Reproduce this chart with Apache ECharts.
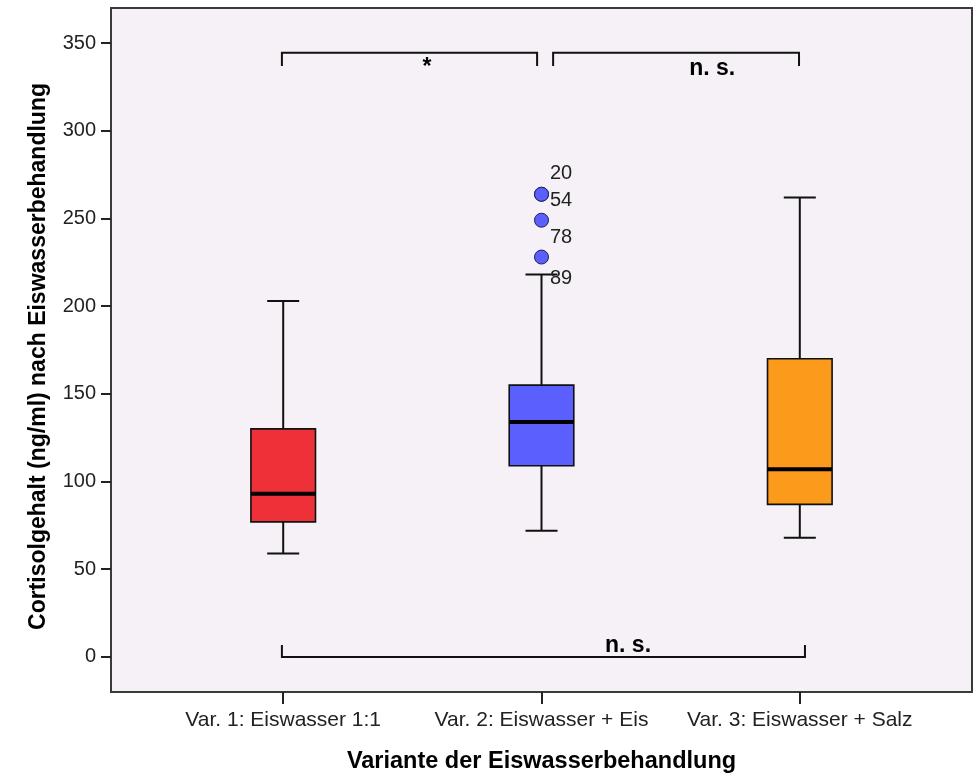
<!DOCTYPE html>
<html>
<head>
<meta charset="utf-8">
<script src="https://cdn.jsdelivr.net/npm/echarts@6/dist/echarts.min.js"></script>
<style>
  html, body { margin: 0; padding: 0; background: #ffffff; }
  #chart { width: 974px; height: 780px; }
</style>
</head>
<body>
<div id="chart"></div>
<script>
// Treatment variants on the x axis
const categories = ['Var. 1: Eiswasser 1:1', 'Var. 2: Eiswasser + Eis', 'Var. 3: Eiswasser + Salz'];

// Box summaries per variant (ng/ml)
const whiskerLow  = [59, 72, 68];
const quartile1   = [77, 109, 87];
const medians     = [93, 134, 107];
const quartile3   = [130, 155, 170];
const whiskerHigh = [203, 218, 262];

// Outliers (variant index 1..3, value, case number)
const outlierGroup  = [2, 2, 2, 2];
const outlierValues = [263.8, 263.8, 249, 228];
const outlierCases  = ['20', '54', '78', '89'];

// Y axis tick values
const yTicks = [0, 50, 100, 150, 200, 250, 300, 350];

// Significance brackets: span between variants and the test result
const bracketFrom  = [1, 2, 1];
const bracketTo    = [2, 3, 3];
const bracketText  = ['*', 'n. s.', 'n. s.'];

const boxColors = ['#ee3039', '#5a5ffe', '#fb9a1b'];
const FONT = '"Liberation Sans", Arial, sans-serif';

// bracket geometry (axis units): left/right trim, line level, leg end, label position
const bracketStyle = [
  { x1: -0.005, x2: -0.017, level: 344.5, leg: 337, tx: 1.557, ty: 336.2 },
  { x1: 0.045, x2: -0.003, level: 344.5, leg: 337, tx: 2.661, ty: 335.5 },
  { x1: -0.005, x2: 0.02, level: 0, leg: 6.8, tx: 2.335, ty: 6.2 }
];
// case label offsets next to the outlier symbols (px)
const caseLabelShift = [-21, 6, 17, 21];

const chart = echarts.init(document.getElementById('chart'), null, { renderer: 'canvas' });

function renderBox(params, api) {
  const x = api.value(0);
  const lo = api.coord([x, api.value(1)]);
  const q1 = api.coord([x, api.value(2)]);
  const md = api.coord([x, api.value(3)]);
  const q3 = api.coord([x, api.value(4)]);
  const hi = api.coord([x, api.value(5)]);
  const half = api.size([0.25, 0])[0] / 2;
  const cap = api.size([0.124, 0])[0] / 2;
  const line = { stroke: '#111111', lineWidth: 2 };
  return {
    type: 'group',
    children: [
      { type: 'line', shape: { x1: lo[0], y1: lo[1], x2: q1[0], y2: q1[1] }, style: line },
      { type: 'line', shape: { x1: q3[0], y1: q3[1], x2: hi[0], y2: hi[1] }, style: line },
      { type: 'line', shape: { x1: lo[0] - cap, y1: lo[1], x2: lo[0] + cap, y2: lo[1] }, style: line },
      { type: 'line', shape: { x1: hi[0] - cap, y1: hi[1], x2: hi[0] + cap, y2: hi[1] }, style: line },
      { type: 'rect', shape: { x: q3[0] - half, y: q3[1], width: 2 * half, height: q1[1] - q3[1] },
        style: { fill: boxColors[params.dataIndex], stroke: '#111111', lineWidth: 1.6 } },
      { type: 'line', shape: { x1: md[0] - half, y1: md[1], x2: md[0] + half, y2: md[1] },
        style: { stroke: '#000000', lineWidth: 4 } }
    ]
  };
}

function renderBracket(params, api) {
  const s = bracketStyle[params.dataIndex];
  const a = api.coord([api.value(0) + s.x1, s.level]);
  const b = api.coord([api.value(1) + s.x2, s.level]);
  const legY = api.coord([0, s.leg])[1];
  const t = api.coord([s.tx, s.ty]);
  return {
    type: 'group',
    children: [
      { type: 'polyline', shape: { points: [[a[0], legY], [a[0], a[1]], [b[0], b[1]], [b[0], legY]] },
        style: { stroke: '#111111', lineWidth: 2, fill: null } },
      { type: 'text', x: t[0], y: t[1],
        style: { text: bracketText[params.dataIndex], fill: '#000000', align: 'center', verticalAlign: 'middle',
                 font: 'bold 23px ' + FONT } }
    ]
  };
}

const option = {
  animation: false,
  backgroundColor: '#ffffff',
  grid: {
    left: 111, right: 2, top: 8, bottom: 88,
    show: true, backgroundColor: '#f6f1f6', borderColor: '#3a3a3a', borderWidth: 2
  },
  xAxis: {
    type: 'value', min: 1 / 3, max: 11 / 3,
    axisLine: { show: false, onZero: false },
    splitLine: { show: false },
    axisTick: { show: true, customValues: [1, 2, 3], length: 12, lineStyle: { color: '#222222', width: 2 } },
    axisLabel: {
      customValues: [1, 2, 3], margin: 18, fontSize: 21, fontFamily: FONT, color: '#222222',
      formatter: v => categories[Math.round(v) - 1]
    },
    name: 'Variante der Eiswasserbehandlung', nameLocation: 'middle', nameGap: 58,
    nameTextStyle: { fontSize: 23.5, fontWeight: 'bold', fontFamily: FONT, color: '#000000' }
  },
  yAxis: {
    type: 'value', min: -20, max: 370,
    axisLine: { show: false, onZero: false },
    splitLine: { show: false },
    axisTick: { show: true, customValues: yTicks, length: 10, lineStyle: { color: '#222222', width: 2 } },
    axisLabel: { customValues: yTicks, margin: 15, fontSize: 20, fontFamily: FONT, color: '#222222' },
    name: 'Cortisolgehalt (ng/ml) nach Eiswasserbehandlung', nameLocation: 'middle', nameGap: 61,
    nameTextStyle: { fontSize: 23, fontWeight: 'bold', fontFamily: FONT, color: '#000000', padding: [0, 13, 0, 0] }
  },
  series: [
    {
      type: 'custom', name: 'box', renderItem: renderBox,
      encode: { x: 0, y: [1, 2, 3, 4, 5] },
      data: categories.map((c, i) => [i + 1, whiskerLow[i], quartile1[i], medians[i], quartile3[i], whiskerHigh[i]]),
      z: 2
    },
    {
      type: 'scatter', name: 'outliers', symbol: 'circle', symbolSize: 14,
      itemStyle: { color: '#5a5ffe', borderColor: '#20205a', borderWidth: 1, opacity: 1 },
      data: outlierValues.map((v, i) => ({
        value: [outlierGroup[i], v],
        label: {
          show: true, position: 'right', distance: 1, offset: [0, caseLabelShift[i]],
          formatter: outlierCases[i], fontSize: 20, fontFamily: FONT, color: '#222222'
        }
      })),
      z: 4
    },
    {
      type: 'custom', name: 'brackets', renderItem: renderBracket,
      encode: { x: [0, 1] },
      data: bracketFrom.map((f, i) => [f, bracketTo[i]]),
      z: 3
    }
  ]
};

chart.setOption(option);
</script>
</body>
</html>
